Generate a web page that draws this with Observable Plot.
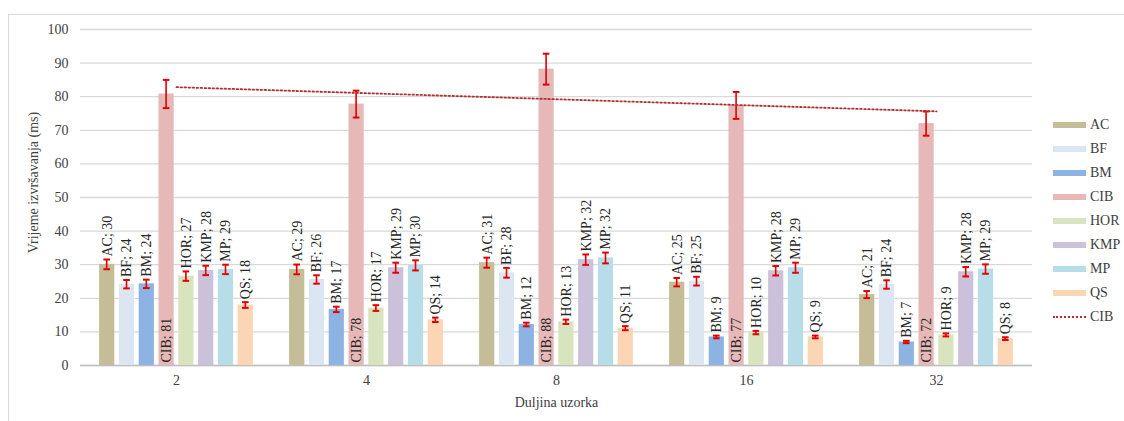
<!DOCTYPE html>
<html>
<head>
<meta charset="utf-8">
<script src="https://cdn.jsdelivr.net/npm/d3@7"></script>
<script src="https://cdn.jsdelivr.net/npm/@observablehq/plot@0.6"></script>
<style>
  body { margin: 0; background: #fff; }
  #wrap { position: relative; width: 1124px; height: 421px; overflow: hidden; font-family: "Liberation Serif", "Times New Roman", serif; color: #404040; }
  #border { position: absolute; left: 8px; top: 14px; width: 1130px; height: 420px; border: 1px solid #d9d9d9; box-sizing: border-box; }
  #chart { position: absolute; left: 0; top: 0; }
  #chart svg, #chart svg text { font-family: "Liberation Serif", "Times New Roman", serif !important; }
  #legend { position: absolute; left: 1053px; top: 113px; font-size: 14px; }
  .item { display: flex; align-items: center; height: 24px; }
  .sw { width: 33px; height: 6px; margin-right: 4px; }
  .dot { width: 33px; height: 0; border-top: 2px dotted #b03030; margin-right: 4px; }
</style>
</head>
<body>
<div id="wrap">
  <div id="border"></div>
  <div id="chart"></div>
  <div id="legend"></div>
</div>
<script>
// ---- data ----
const lengths = ["2", "4", "8", "16", "32"];
const algorithms = ["AC", "BF", "BM", "CIB", "HOR", "KMP", "MP", "QS"];
const colors = ["#c4bd97", "#dce6f2", "#8db3e2", "#e6b9b8", "#d7e4bd", "#ccc1da", "#b7dee8", "#fcd5b5"];

const AC  = [30.1, 28.6, 30.6, 24.8, 21.1];
const BF  = [24.2, 25.6, 27.6, 25.1, 24.1];
const BM  = [24.3, 16.7, 12.2, 8.5, 7.0];
const CIB = [80.8, 77.8, 88.2, 77.4, 72.0];
const HOR = [26.6, 17.1, 13.0, 9.8, 9.1];
const KMP = [28.3, 29.1, 31.5, 28.2, 27.9];
const MP  = [28.6, 29.8, 32.0, 29.1, 28.7];
const QS  = [18.0, 13.6, 11.1, 8.5, 8.0];

const errAC  = [1.45, 1.45, 1.5, 1.25, 1.05];
const errBF  = [1.25, 1.25, 1.45, 1.3, 1.25];
const errBM  = [1.25, 0.8, 0.55, 0.4, 0.35];
const errCIB = [4.2, 4.0, 4.6, 4.0, 3.6];
const errHOR = [1.4, 0.85, 0.65, 0.5, 0.45];
const errKMP = [1.4, 1.5, 1.55, 1.4, 1.4];
const errMP  = [1.4, 1.5, 1.6, 1.5, 1.4];
const errQS  = [0.85, 0.65, 0.6, 0.4, 0.4];

const yTicks = [0, 10, 20, 30, 40, 50, 60, 70, 80, 90, 100];
const yTitle = "Vrijeme izvršavanja (ms)";
const xTitle = "Duljina uzorka";
const trendName = "CIB";

// ---- build table ----
const seriesValues = {AC, BF, BM, CIB, HOR, KMP, MP, QS};
const seriesErrors = {AC: errAC, BF: errBF, BM: errBM, CIB: errCIB, HOR: errHOR, KMP: errKMP, MP: errMP, QS: errQS};
const rows = [];
algorithms.forEach((alg, j) => {
  lengths.forEach((len, i) => {
    const v = seriesValues[alg][i], e = seriesErrors[alg][i];
    rows.push({alg, j, len, value: v, lo: v - e, hi: v + e, label: `${alg}; ${Math.round(v)}`});
  });
});

// linear trendline of CIB over category index
const xs = CIB.map((_, i) => i + 1);
const mx = d3.mean(xs), my = d3.mean(CIB);
const slope = d3.sum(xs, (x, i) => (x - mx) * (CIB[i] - my)) / d3.sum(xs, x => (x - mx) ** 2);
const trend = lengths.map((len, i) => ({len, value: my + slope * (xs[i] - mx)}));

// ---- layout ----
const W = 1040, H = 421, ML = 80, MR = 8, MT = 29, MB = 56;
const bandW = (W - ML - MR) / lengths.length;
const STEP = 19.8, BARW = 15.6;
const RED = "#e00000";
const FONT = "Liberation Serif";

const marks = [
  Plot.gridY(yTicks, {stroke: "#d9d9d9", strokeOpacity: 1, strokeWidth: 1.3}),
  Plot.ruleY([0], {stroke: "#bfbfbf", strokeWidth: 1.5})
];
algorithms.forEach((alg, j) => {
  const data = rows.filter(d => d.alg === alg);
  const dx = (j - (algorithms.length - 1) / 2) * STEP;
  const inBar = (bandW - BARW) / 2;
  const inErr = (bandW - 2) / 2;
  const inCap = (bandW - 7) / 2;
  marks.push(
    Plot.barY(data, {x: "len", y: "value", fill: colors[j], insetLeft: inBar, insetRight: inBar, dx}),
    Plot.barY(data, {x: "len", y1: "lo", y2: "hi", fill: RED, insetLeft: inErr, insetRight: inErr, dx}),
    Plot.tickY(data, {x: "len", y: "hi", stroke: RED, strokeWidth: 2, insetLeft: inCap, insetRight: inCap, dx}),
    Plot.tickY(data, {x: "len", y: "lo", stroke: RED, strokeWidth: 2, insetLeft: inCap, insetRight: inCap, dx}),
    Plot.text(data, {x: "len", y: alg === "CIB" ? (() => 0) : "hi", text: "label", rotate: -90, textAnchor: "start",
      dx, dy: -3, fontSize: 14, fontFamily: FONT, fill: "#262626"})
  );
});
marks.push(
  Plot.lineY(trend, {x: "len", y: "value", stroke: "#b03030", strokeWidth: 1.8, strokeDasharray: "1.6,2.4"}),
  Plot.axisY(yTicks, {tickSize: 0, tickPadding: 12, label: null, fontSize: 14, fontFamily: FONT}),
  Plot.axisX({tickSize: 0, tickPadding: 10, label: null, fontSize: 14, fontFamily: FONT}),
  Plot.text([xTitle], {frameAnchor: "bottom", textAnchor: "middle", lineAnchor: "middle", dy: 37, text: d => d, fontSize: 14, fontFamily: FONT, fill: "#404040"}),
  Plot.text([yTitle], {frameAnchor: "left", textAnchor: "middle", lineAnchor: "middle", rotate: -90, dx: -47, dy: -15, text: d => d, fontSize: 14, fontFamily: FONT, fill: "#404040"})
);

const chart = Plot.plot({
  width: W, height: H,
  marginLeft: ML, marginRight: MR, marginTop: MT, marginBottom: MB,
  style: {fontFamily: FONT, fontSize: "14px", color: "#404040", background: "transparent", overflow: "visible"},
  x: {type: "band", domain: lengths, padding: 0, label: null},
  y: {domain: [0, 100], label: null},
  marks
});
document.getElementById("chart").appendChild(chart);

// ---- legend ----
const legend = document.getElementById("legend");
algorithms.forEach((alg, j) => {
  const it = document.createElement("div");
  it.className = "item";
  it.innerHTML = `<div class="sw" style="background:${colors[j]}"></div><span>${alg}</span>`;
  legend.appendChild(it);
});
const tr = document.createElement("div");
tr.className = "item";
tr.innerHTML = `<div class="dot"></div><span>${trendName}</span>`;
legend.appendChild(tr);
</script>
</body>
</html>
